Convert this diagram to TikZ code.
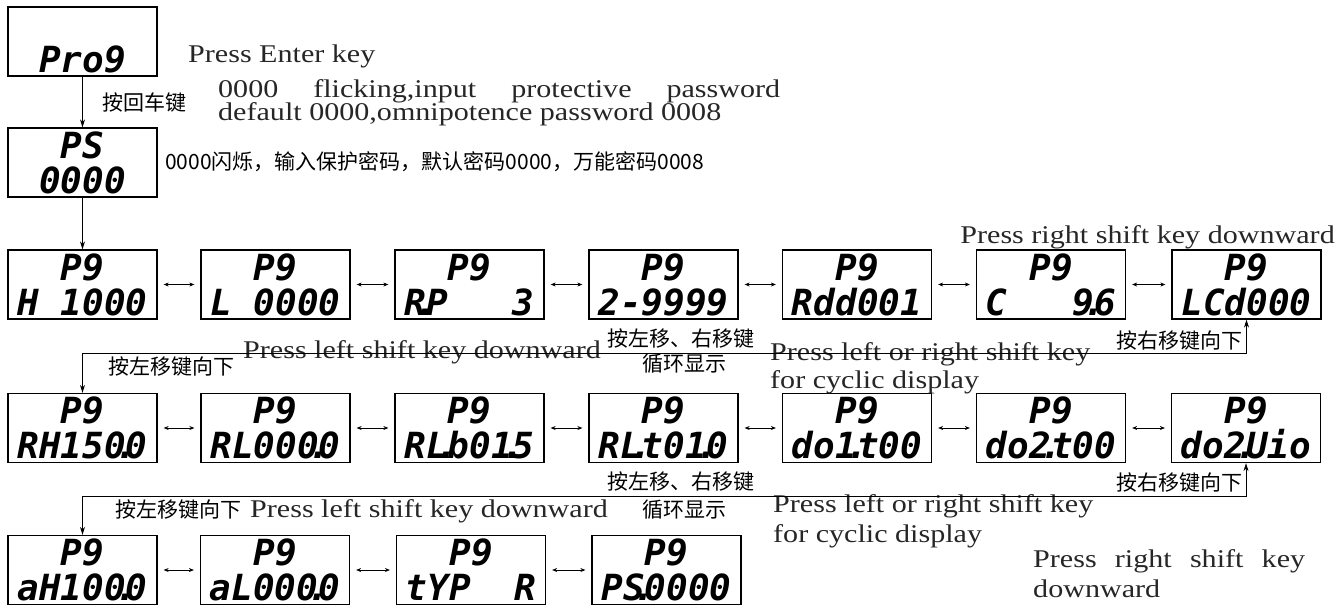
\documentclass[tikz,border=0pt]{standalone}
\usepackage{fontspec}
\setmainfont{Liberation Serif}
\newfontfamily\enfont{Liberation Serif}[FakeStretch=1.18]
\newfontfamily\cjk{Noto Sans CJK SC}
\newfontfamily\lcdfont{DejaVu Sans Mono Bold Oblique}
\usetikzlibrary{arrows.meta}
\newcommand\segdot{\makebox[0pt]{.}}

\begin{document}
\begin{tikzpicture}[x=1pt, y=-1pt, >={Stealth[length=8pt,width=5pt]},
  lcd/.style={draw, line width=1.3pt, minimum width=149pt, minimum height=69pt,
    inner sep=0pt, align=center, font=\lcdfont\fontsize{36}{35}\selectfont},
  cyc/.style={{Stealth[length=5pt,width=4pt]}-{Stealth[length=5pt,width=4pt]},
    line width=0.6pt, shorten <=6pt, shorten >=6pt},
  flow/.style={->, line width=0.8pt},
  link/.style={<->, line width=0.8pt},
  en/.style={font=\enfont\fontsize{25.5}{26}\selectfont, text=black!85, inner sep=0pt},
  cn/.style={font=\cjk\fontsize{21}{21}\selectfont, inner sep=0pt}]
  \useasboundingbox (0,0) rectangle (1339,608);

  % entry and password
  \node[lcd] (prog) at (82.5,41.5) {\phantom{P9}\\Pro9};
  \node[lcd] (pswd) at (82.5,162.5) {PS\\0000};

  % first menu row
  \node[lcd] (pgH)   at (82.5,284.5)   {P9\\H~1000};
  \node[lcd] (pgL)   at (275.5,284.5)  {P9\\L~0000};
  \node[lcd] (pgRP)  at (469.5,284.5)  {P9\\R\segdot P~~~3};
  \node[lcd] (pgZ)   at (663.5,284.5)  {P9\\2-9999};
  \node[lcd] (pgAdd) at (857,284.5)    {P9\\Rdd001};
  \node[lcd] (pgC)   at (1051,284.5)   {P9\\C~~~9\segdot 6};
  \node[lcd] (pgLCd) at (1246.5,284.5) {P9\\LCd000};

  % second menu row
  \node[lcd] (pgAH)  at (82.5,428)   {P9\\RH150\segdot0};
  \node[lcd] (pgAL)  at (275.5,428)  {P9\\RL000\segdot0};
  \node[lcd] (pgALb) at (469.5,428)  {P9\\RL\segdot b01\segdot5};
  \node[lcd] (pgALt) at (663.5,428)  {P9\\RL\segdot t01\segdot0};
  \node[lcd] (pgDoA) at (857,428)    {P9\\do1\segdot t00};
  \node[lcd] (pgDoB) at (1051,428)   {P9\\do2\segdot t00};
  \node[lcd] (pgDoU) at (1246,428)   {P9\\do2\segdot Uio};

  % third menu row
  \node[lcd] (pgOH)  at (82.5,570)  {P9\\aH100\segdot0};
  \node[lcd] (pgOL)  at (275,570)   {P9\\aL000\segdot0};
  \node[lcd] (pgTyp) at (471,570)   {P9\\tYP~~R};
  \node[lcd] (pgPS)  at (666.5,570) {P9\\PS\segdot 0000};

  % texts
  \node[cn] (enterCn) at (144,103) {按回车键};
  \node[en, anchor=base west] (enterEn) at (188,62) {Press Enter key};
  \node[en, anchor=base west] (flickEn) at (218,97)
    {\makebox[562pt][s]{0000 flicking,input protective password}};
  \node[en, anchor=base west] (defEn) at (218,120) {default 0000,omnipotence password 0008};
  \node[cn, anchor=west] (flickCn) at (165,162) {0000闪烁，输入保护密码，默认密码0000，万能密码0008};
  \node[en, anchor=base east] (rightTop) at (1335,243) {Press right shift key downward};

  \node[cn, anchor=west] (leftCnA) at (108,367) {按左移键向下};
  \node[en, anchor=base west] (leftEnA) at (243,358) {Press left shift key downward};
  \node[cn] (cycCnA) at (681,339) {按左移、右移键};
  \node[cn] (cycCnA2) at (684,364) {循环显示};
  \node[en, anchor=base west] (cycEnA) at (770,360) {Press left or right shift key};
  \node[en, anchor=base west] (cycEnA2) at (770,388) {for cyclic display};
  \node[cn, anchor=east] (rightCnA) at (1243,341) {按右移键向下};

  \node[cn, anchor=west] (leftCnB) at (115,510) {按左移键向下};
  \node[en, anchor=base west] (leftEnB) at (250,517) {Press left shift key downward};
  \node[cn] (cycCnB) at (681,482) {按左移、右移键};
  \node[cn] (cycCnB2) at (684,510) {循环显示};
  \node[en, anchor=base west] (cycEnB) at (773,512) {Press left or right shift key};
  \node[en, anchor=base west] (cycEnB2) at (773,542) {for cyclic display};
  \node[cn, anchor=east] (rightCnB) at (1243,483) {按右移键向下};
  \node[en, anchor=base west] (rightEnB) at (1033,567) {\makebox[272pt][s]{Press right shift key}};
  \node[en, anchor=base west] (rightEnB2) at (1033,597) {downward};

  % arrows
  \draw[flow] (prog) -- (pswd);
  \draw[flow] (pswd) -- (pgH);
  \draw[cyc] (pgH) -- (pgL);
  \draw[cyc] (pgL) -- (pgRP);
  \draw[cyc] (pgRP) -- (pgZ);
  \draw[cyc] (pgZ) -- (pgAdd);
  \draw[cyc] (pgAdd) -- (pgC);
  \draw[cyc] (pgC) -- (pgLCd);
  \draw[cyc] (pgAH) -- (pgAL);
  \draw[cyc] (pgAL) -- (pgALb);
  \draw[cyc] (pgALb) -- (pgALt);
  \draw[cyc] (pgALt) -- (pgDoA);
  \draw[cyc] (pgDoA) -- (pgDoB);
  \draw[cyc] (pgDoB) -- (pgDoU);
  \draw[cyc] (pgOH) -- (pgOL);
  \draw[cyc] (pgOL) -- (pgTyp);
  \draw[cyc] (pgTyp) -- (pgPS);

  \coordinate (upper) at (0,353);
  \coordinate (lower) at (0,496);
  \draw[link] (pgAH.north) -- (pgAH.north |- upper) -- (pgLCd.south |- upper) -- (pgLCd.south);
  \draw[link] (pgOH.north) -- (pgOH.north |- lower) -- (pgDoU.south |- lower) -- (pgDoU.south);
\end{tikzpicture}
\end{document}
